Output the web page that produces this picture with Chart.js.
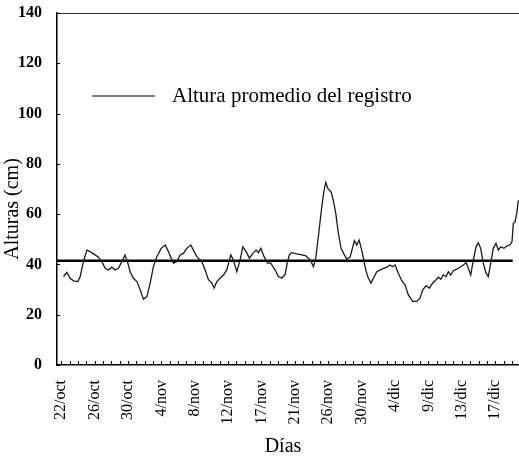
<!DOCTYPE html>
<html><head><meta charset="utf-8">
<script src="https://cdn.jsdelivr.net/npm/chart.js@4/dist/chart.umd.min.js"></script>
<style>html,body{margin:0;padding:0;background:#fff;overflow:hidden}#wrap{width:519px;height:461px}</style>
</head><body><div id="wrap"><canvas id="c" width="519" height="461"></canvas></div>
<script>
// ---- data ----
const dateLabels = ["22/oct","26/oct","30/oct","4/nov","8/nov","12/nov","17/nov","21/nov","26/nov","30/nov","4/dic","9/dic","13/dic","17/dic"];
const labelEvery = 4;          // one label every 4 daily ticks
const dayCount = 55;           // daily ticks on the x axis
const yTickValues = [0,20,40,60,80,100,120,140];
const days = [0.28,0.68,1.08,1.47,2.0,2.28,2.67,3.08,3.47,3.75,4.07,4.47,4.87,5.27,5.66,6.07,6.47,6.86,7.27,7.66,7.99,8.26,8.66,9.07,9.46,9.86,10.26,10.66,11.05,11.46,11.98,12.46,12.85,13.05,13.45,13.86,14.25,14.65,15.05,15.53,15.84,16.25,16.85,17.25,17.64,18.05,18.32,18.65,19.04,19.44,19.84,20.32,20.63,21.04,21.44,21.76,22.16,22.55,22.96,23.35,23.63,23.92,24.31,24.71,25.11,25.63,26.02,26.43,26.83,27.1,27.34,27.63,28.23,28.83,29.31,29.62,29.94,30.22,30.5,30.81,31.22,31.53,31.7,31.94,32.34,32.61,32.9,33.21,33.53,33.93,34.22,34.61,34.89,35.13,35.41,35.69,36.01,36.25,36.49,36.8,37.13,37.4,37.81,38.41,39.01,39.4,39.68,40.0,40.4,40.8,41.2,41.59,42.12,42.6,42.99,43.32,43.71,44.11,44.51,44.91,45.19,45.47,45.78,46.11,46.38,46.67,46.98,47.39,47.78,48.18,48.5,48.78,49.07,49.38,49.7,49.98,50.26,50.57,50.9,51.17,51.46,51.77,52.1,52.37,52.66,53.05,53.38,53.77,54.01,54.17,54.37,54.58,54.77];
const heights = [35.2,36.8,34.5,33.5,33.2,35.2,41.1,45.7,45.1,44.4,43.8,42.9,41.1,38.5,37.8,38.9,37.8,38.5,41.1,43.8,40.5,37.1,34.5,33.2,29.9,26.2,27.2,32.6,39.1,43.1,46.4,47.7,45.1,43.5,40.5,41.1,43.8,44.4,46.4,47.7,45.7,43.1,41.1,37.8,33.9,32.6,30.6,33.2,34.5,35.8,37.8,43.8,41.8,37.1,41.8,47.0,45.1,42.5,44.4,45.7,44.7,46.4,43.1,40.5,40.5,37.8,35.2,34.5,36.0,40.8,43.8,44.7,44.2,43.8,43.4,42.5,41.1,39.1,42.5,51.0,62.9,70.2,72.6,70.2,68.8,65.5,60.3,52.4,46.4,43.8,42.1,42.9,46.4,49.4,47.7,49.7,45.7,41.8,37.8,34.5,32.6,34.5,37.1,38.1,38.9,39.8,39.1,39.8,36.5,33.5,31.9,27.9,25.3,25.3,26.6,29.9,31.5,30.6,32.6,33.9,34.9,34.1,35.8,35.2,37.1,35.8,37.5,38.1,38.9,39.8,40.7,38.5,35.8,41.8,47.0,48.6,46.4,40.5,36.5,35.2,40.5,46.4,48.4,45.7,47.0,46.4,47.3,47.7,49.0,56.3,56.9,60.3,65.5];
const meanHeight = 41.5;
const meanRange = [-0.5, 54.1];
const legendText = "Altura promedio del registro";
const xTitle = "Días";
const yTitle = "Alturas (cm)";

const SERIF = '"Liberation Serif","Times New Roman",serif';

const seriesPoints = days.map((d,i)=>({x:d,y:heights[i]}));
const meanPoints = meanRange.map(d=>({x:d,y:meanHeight}));

const decor = {
  id:'decor',
  afterDraw(chart){
    const {ctx, chartArea:a, scales:{x,y}} = chart;
    ctx.save();
    // top frame line
    ctx.strokeStyle='#333'; ctx.lineWidth=1;
    ctx.beginPath(); ctx.moveTo(a.left, a.top+0.5); ctx.lineTo(a.right, a.top+0.5); ctx.stroke();
    // inward ticks
    ctx.strokeStyle='#000'; ctx.lineWidth=1;
    ctx.beginPath();
    for(let d=0; d<dayCount; d++){
      const px=Math.round(x.getPixelForValue(d))+0.5;
      ctx.moveTo(px,a.bottom); ctx.lineTo(px,a.bottom-4);
    }
    yTickValues.forEach(v=>{
      const py=Math.round(y.getPixelForValue(v))+0.5;
      ctx.moveTo(a.left,py); ctx.lineTo(a.left+3,py);
    });
    ctx.stroke();
    // legend
    ctx.strokeStyle='#000'; ctx.lineWidth=1.2;
    ctx.beginPath(); ctx.moveTo(92,96); ctx.lineTo(155,96); ctx.stroke();
    ctx.fillStyle='#000'; ctx.font='21px '+SERIF;
    ctx.textAlign='left'; ctx.textBaseline='middle';
    ctx.fillText(legendText,172,96);
    // axis titles
    ctx.font='20px '+SERIF; ctx.textAlign='center';
    ctx.fillText(xTitle,283,447);
    ctx.translate(13,209); ctx.rotate(-Math.PI/2);
    ctx.fillText(yTitle,0,0);
    ctx.restore();
  }
};

new Chart(document.getElementById('c'),{
  type:'line',
  data:{datasets:[
    {data:seriesPoints,borderColor:'#1a1a1a',borderWidth:1.3,pointRadius:0,tension:0,fill:false},
    {data:meanPoints,borderColor:'#000',borderWidth:2.5,pointRadius:0,tension:0,fill:false}
  ]},
  options:{
    responsive:false,animation:false,devicePixelRatio:1,
    layout:{padding:{top:13,right:0,left:0,bottom:0}},
    plugins:{legend:{display:false},tooltip:{enabled:false}},
    scales:{
      x:{type:'linear',min:-0.5,max:54.85,
        afterBuildTicks:s=>{s.ticks=Array.from({length:dayCount},(_,i)=>({value:i}));},
        afterFit:s=>{s.height=96;s.paddingLeft=0;s.paddingRight=0;},
        grid:{drawOnChartArea:false,drawTicks:false},
        border:{display:true,color:'#000',width:1.5},
        ticks:{autoSkip:false,maxRotation:90,minRotation:90,padding:15,color:'#000',
          font:{family:SERIF,size:16},
          callback:v=>(Number.isInteger(v)&&v%labelEvery===0&&dateLabels[v/labelEvery])?dateLabels[v/labelEvery]:''}
      },
      y:{min:0,max:140,
        afterFit:s=>{s.width=57;s.paddingTop=0;s.paddingBottom=0;},
        grid:{drawOnChartArea:false,drawTicks:false},
        border:{display:true,color:'#000',width:1.5},
        ticks:{stepSize:20,padding:15,color:'#000',font:{family:SERIF,size:16,weight:'bold'}}
      }
    }
  },
  plugins:[decor]
});
</script></body></html>
